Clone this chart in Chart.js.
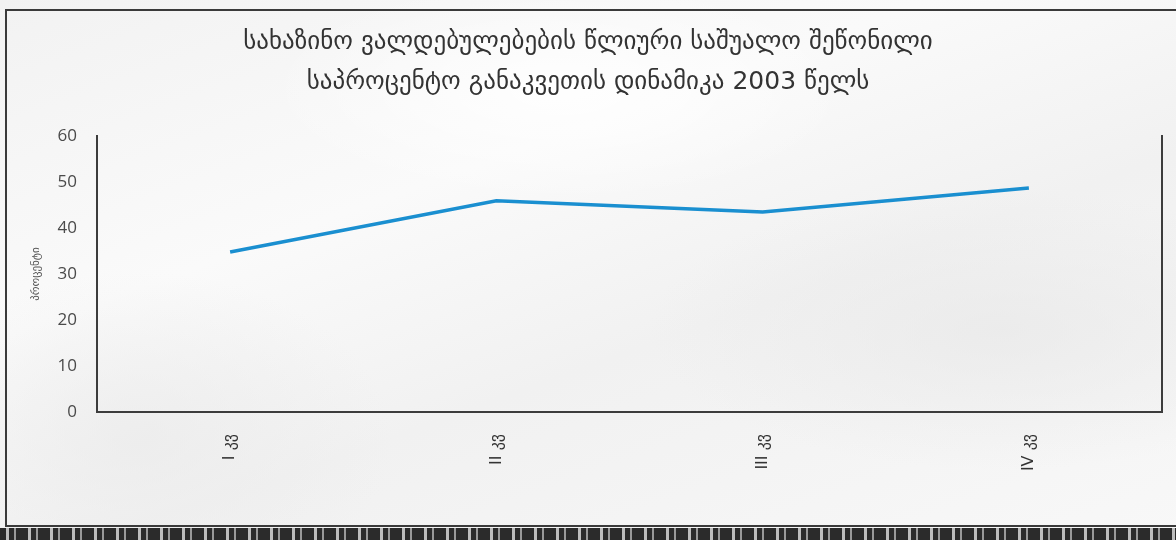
<!DOCTYPE html>
<html>
<head>
<meta charset="utf-8">
<script src="https://cdn.jsdelivr.net/npm/chart.js@4/dist/chart.umd.min.js"></script>
<style>
  html, body { margin: 0; padding: 0; background: #fff; }
  #wrap {
    position: relative; width: 1176px; height: 540px; overflow: hidden;
    background:
      radial-gradient(ellipse 420px 160px at 560px 90px, rgba(255,255,255,0.9), rgba(255,255,255,0) 70%),
      radial-gradient(ellipse 500px 200px at 1000px 330px, rgba(232,232,232,0.7), rgba(240,240,240,0) 70%),
      radial-gradient(ellipse 360px 240px at 140px 440px, rgba(234,234,234,0.7), rgba(240,240,240,0) 70%),
      linear-gradient(160deg, #f2f2f2 0%, #fafafa 35%, #f1f1f1 60%, #f8f8f8 100%);
  }
  #frame {
    position: absolute; left: 5px; top: 9px; width: 1180px; height: 518px;
    border: 2px solid #3a3a3a; box-sizing: border-box;
  }
  #strip {
    position: absolute; left: 0; top: 528px; width: 1176px; height: 12px;
    background: repeating-linear-gradient(90deg, #2b2b2b 0 6px, #bdbdbd 6px 9px, #2b2b2b 9px 14px, #9a9a9a 14px 16px, #2b2b2b 16px 22px);
  }
  canvas { position: absolute; left: 0; top: 0; }
</style>
</head>
<body>
<div id="wrap">
  <div id="frame"></div>
  <div id="strip"></div>
  <canvas id="chart" width="1176" height="540"></canvas>
</div>
<script>
// --- DATA ---
const quarters = ['I კვ', 'II კვ', 'III კვ', 'IV კვ'];
const rates = [34.8, 45.9, 43.5, 48.7];
const titleLines = ['სახაზინო ვალდებულებების წლიური საშუალო შეწონილი', 'საპროცენტო განაკვეთის დინამიკა 2003 წელს'];
const yTitle = 'პროცენტი';

const axisColor = '#3c3c3c';
const tickFont = { family: "'Open Sans', 'DejaVu Sans', sans-serif", size: 17 };

// --- CHART ---
const ctx = document.getElementById('chart').getContext('2d');

new Chart(ctx, {
    type: 'line',
    data: {
        labels: quarters,
        datasets: [{
            data: rates,
            borderColor: '#1a8fd0',
            borderWidth: 3.5,
            pointRadius: 0,
            tension: 0,
            fill: false
        }]
    },
    options: {
        responsive: false,
        animation: false,
        layout: { padding: 0 },
        plugins: {
            legend: { display: false },
            tooltip: { enabled: false },
            title: {
                display: true,
                text: titleLines,
                color: '#333',
                font: { family: "'DejaVu Sans', sans-serif", size: 25, weight: 'normal', lineHeight: 1.6 },
                padding: { top: 22, bottom: 34 }
            }
        },
        scales: {
            x: {
                offset: true,
                grid: { display: false },
                border: { display: true, color: axisColor, width: 2 },
                ticks: {
                    color: '#333',
                    font: { family: "'DejaVu Sans', sans-serif", size: 16 },
                    minRotation: 90,
                    maxRotation: 90,
                    padding: 14
                },
                afterFit: (scale) => { scale.height = 128; }
            },
            y: {
                min: 0,
                max: 60,
                grid: { display: false },
                border: { display: true, color: axisColor, width: 2 },
                ticks: {
                    stepSize: 10,
                    color: '#4a4a4a',
                    font: tickFont,
                    padding: 12
                },
                title: {
                    display: true,
                    text: yTitle,
                    color: '#555',
                    font: { family: "'DejaVu Sans', sans-serif", size: 11 },
                    padding: { top: 30, bottom: 0 }
                },
                afterFit: (scale) => { scale.width = 97; }
            },
            y2: {
                position: 'right',
                min: 0,
                max: 60,
                grid: { display: false },
                border: { display: true, color: axisColor, width: 2 },
                ticks: { display: false },
                afterFit: (scale) => { scale.width = 14; }
            }
        }
    }
});
</script>
</body>
</html>
